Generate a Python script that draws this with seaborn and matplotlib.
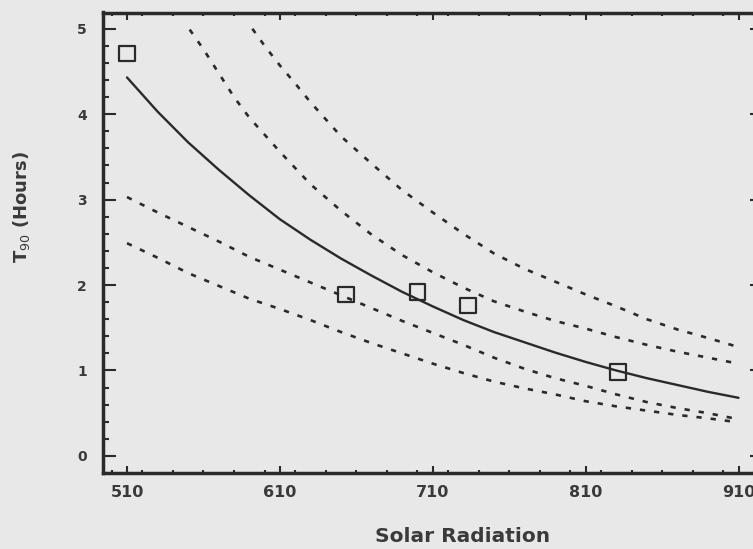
import numpy as np
import pandas as pd
import seaborn as sns
import matplotlib
matplotlib.use("Agg")
import matplotlib.pyplot as plt
from matplotlib.ticker import MultipleLocator

# Fitted T90 curve against solar radiation
fit_x = [510, 530, 550, 570, 590, 610, 630, 650, 670, 690, 710, 730, 750, 770,
         790, 810, 830, 850, 870, 890, 910]
fit_y = [4.43, 4.03, 3.67, 3.35, 3.05, 2.77, 2.53, 2.31, 2.11, 1.92, 1.75, 1.59,
         1.45, 1.33, 1.21, 1.10, 1.00, 0.91, 0.83, 0.75, 0.68]

# Upper bounds
upper1_x = [551, 560, 570, 580, 590, 600, 610, 630, 650, 670, 690, 710, 730, 750,
            770, 790, 810, 830, 850, 870, 890, 907]
upper1_y = [4.99, 4.76, 4.48, 4.20, 3.96, 3.76, 3.56, 3.18, 2.87, 2.59, 2.35, 2.15,
            1.97, 1.81, 1.69, 1.58, 1.49, 1.39, 1.30, 1.22, 1.15, 1.09]
upper2_x = [592, 600, 610, 620, 630, 650, 670, 690, 710, 730, 750, 770, 790, 810,
            830, 850, 870, 890, 907]
upper2_y = [5.00, 4.80, 4.57, 4.36, 4.14, 3.74, 3.42, 3.11, 2.85, 2.60, 2.37, 2.19,
            2.04, 1.89, 1.75, 1.60, 1.48, 1.38, 1.29]

# Lower bounds
lower1_x = [510, 530, 550, 570, 590, 610, 630, 650, 670, 690, 710, 730, 750, 770,
            790, 810, 830, 850, 870, 890, 907]
lower1_y = [3.03, 2.85, 2.68, 2.51, 2.33, 2.18, 2.03, 1.88, 1.73, 1.58, 1.44, 1.30,
            1.15, 1.02, 0.91, 0.82, 0.72, 0.63, 0.56, 0.50, 0.44]
lower2_x = lower1_x
lower2_y = [2.49, 2.32, 2.14, 1.99, 1.84, 1.72, 1.59, 1.45, 1.32, 1.20, 1.08, 0.97,
            0.87, 0.79, 0.72, 0.64, 0.58, 0.53, 0.48, 0.44, 0.40]

# Observed T90 values
obs_x = [510, 653, 700, 733, 831]
obs_y = [4.71, 1.89, 1.92, 1.76, 0.98]

x_ticks = [510, 610, 710, 810, 910]
y_ticks = [0, 1, 2, 3, 4, 5]

bg = "#e8e8e8"
ink = "#2a2a2a"
txt = "#3a3a3a"

sns.set_style("ticks")
plt.rcParams["font.family"] = ["DejaVu Sans"]

fig = plt.figure(figsize=(7.53, 5.49), dpi=100, facecolor=bg)
W, H = 753, 549
left, right, top, bottom = 103, 763, 12.5, 473
ax = fig.add_axes([left / W, 1 - bottom / H, (right - left) / W, (bottom - top) / H])
ax.set_facecolor(bg)

dots = (0, (2.0, 3.4))
for xs, ys in [(upper1_x, upper1_y), (upper2_x, upper2_y),
               (lower1_x, lower1_y), (lower2_x, lower2_y)]:
    d = pd.DataFrame({"x": xs, "y": ys})
    sns.lineplot(data=d, x="x", y="y", ax=ax, color=ink, linewidth=1.9,
                 linestyle=dots, sort=True, estimator=None)

fit = pd.DataFrame({"x": fit_x, "y": fit_y})
sns.lineplot(data=fit, x="x", y="y", ax=ax, color=ink, linewidth=1.7,
             estimator=None)

obs = pd.DataFrame({"x": obs_x, "y": obs_y})
sns.scatterplot(data=obs, x="x", y="y", ax=ax, marker="s", s=130,
                facecolor="none", edgecolor=ink, linewidth=1.6, zorder=5)

ax.set_xlim(494.3, 926.0)
ax.set_ylim(-0.2, 5.19)
ax.set_xticks(x_ticks)
ax.set_yticks(y_ticks)
ax.xaxis.set_minor_locator(MultipleLocator(20))
ax.yaxis.set_minor_locator(MultipleLocator(0.2))

ax.tick_params(axis="both", which="both", direction="in", top=True, right=True,
               colors=ink, width=1.5)
ax.tick_params(axis="y", which="major", length=9.5, pad=11.5)
ax.tick_params(axis="y", which="minor", length=4.3)
ax.tick_params(axis="x", which="major", length=5, pad=8.5)
ax.tick_params(axis="x", which="minor", length=2.5)

for lab in ax.get_xticklabels():
    lab.set_fontsize(11.5)
    lab.set_fontweight("bold")
    lab.set_color(txt)
for lab in ax.get_yticklabels():
    lab.set_fontsize(10)
    lab.set_fontweight("bold")
    lab.set_color(txt)

for sp in ax.spines.values():
    sp.set_linewidth(2.5)
    sp.set_color(ink)

ax.set_xlabel("Solar Radiation", fontsize=14.5, fontweight="bold", color=txt,
              va="center")
ax.xaxis.set_label_coords((463 - left) / (right - left), (bottom - 536) / (bottom - top))
ax.set_ylabel("T$_{90}$ (Hours)", fontsize=13, fontweight="bold", color=txt,
              va="center")
ax.yaxis.set_label_coords((22 - left) / (right - left), (bottom - 207) / (bottom - top))

fig.savefig("out.png", dpi=100, facecolor=bg)
